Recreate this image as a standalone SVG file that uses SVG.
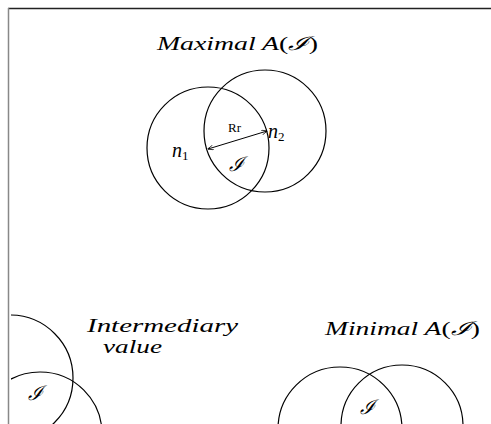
<svg xmlns="http://www.w3.org/2000/svg" width="491" height="424" viewBox="0 0 491 424">
<style>
.c{fill:none;stroke:#000;stroke-width:1.2}
.m{font-family:"Liberation Serif","DejaVu Serif",serif;font-style:italic;fill:#000}
.u{font-family:"Liberation Serif","DejaVu Serif",serif;fill:#000}
</style>
<defs>
<marker id="ah" viewBox="0 0 10 10" refX="9" refY="5" markerWidth="6" markerHeight="6" orient="auto-start-reverse" markerUnits="userSpaceOnUse">
<path d="M0,1 L10,5 L0,9" fill="none" stroke="#000" stroke-width="1.2"/>
</marker>
<clipPath id="clipL"><rect x="11" y="0" width="480" height="424"/></clipPath>
</defs>
<rect width="491" height="424" fill="#fff"/>
<g id="frame">
<line x1="8" y1="8.5" x2="491" y2="8.5" stroke="#222" stroke-width="1.5"/>
<line x1="8.5" y1="8" x2="8.5" y2="424" stroke="#888" stroke-width="1.5"/>
</g>
<g id="maximal">
<text class="m" x="157" y="50" font-size="19" textLength="161" lengthAdjust="spacingAndGlyphs">Maximal A<tspan font-style="normal">(</tspan>ℐ<tspan font-style="normal">)</tspan></text>
<g id="n1"><circle class="c" cx="208" cy="148" r="61"/><text class="m" x="172" y="157" font-size="20">n<tspan font-size="13" font-style="normal" dy="3">1</tspan></text></g>
<g id="n2"><circle class="c" cx="265" cy="131" r="61"/><text class="m" x="268" y="138" font-size="20">n<tspan font-size="13" font-style="normal" dy="3">2</tspan></text></g>
<text class="u" x="228" y="132" font-size="13">Rr</text>
<text class="m" x="229" y="171" font-size="20">ℐ</text>
</g>
<g id="intermediary">
<g clip-path="url(#clipL)">
<circle class="c" cx="10" cy="378" r="63"/>
<circle class="c" cx="40" cy="434" r="62"/>
</g>
<text class="m" x="87" y="332" font-size="19" textLength="151" lengthAdjust="spacingAndGlyphs">Intermediary</text>
<text class="m" x="103" y="353" font-size="19" textLength="59" lengthAdjust="spacingAndGlyphs">value</text>
<text class="m" x="28" y="400" font-size="20">ℐ</text>
</g>
<g id="minimal">
<circle class="c" cx="340" cy="429" r="62"/>
<circle class="c" cx="402" cy="426" r="61"/>
<text class="m" x="325" y="335" font-size="19" textLength="155" lengthAdjust="spacingAndGlyphs">Minimal A<tspan font-style="normal">(</tspan>ℐ<tspan font-style="normal">)</tspan></text>
<text class="m" x="360" y="414" font-size="20">ℐ</text>
</g>
<g id="connectors">
<line x1="208" y1="149" x2="267" y2="131" stroke="#000" stroke-width="1" marker-start="url(#ah)" marker-end="url(#ah)"/>
</g>
</svg>
